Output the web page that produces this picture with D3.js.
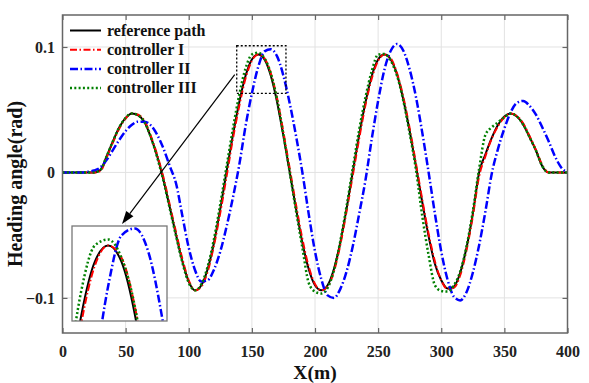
<!DOCTYPE html>
<html>
<head>
<meta charset="utf-8">
<script src="https://cdn.jsdelivr.net/npm/d3@7"></script>
<style>
  body { margin: 0; background: #fff; }
  text { font-family: "Liberation Serif", "Times New Roman", serif; font-weight: bold; }
</style>
</head>
<body>
<div id="chart"></div>
<script>
const width = 589;
const height = 383;

// distance along the path (m)
const distance = [
  0, 5, 10, 15, 20, 25, 30, 35, 40, 45, 50, 55, 60, 65, 70, 75, 80, 85, 90, 95,
  100, 105, 110, 115, 120, 125, 130, 135, 140, 145, 150, 155, 160, 165, 170, 175, 180, 185, 190, 195,
  200, 205, 210, 215, 220, 225, 230, 235, 240, 245, 250, 255, 260, 265, 270, 275, 280, 285, 290, 295,
  300, 305, 310, 315, 320, 325, 330, 335, 340, 345, 350, 355, 360, 365, 370, 375, 380, 385, 390, 395,
  400
];

// heading angle (rad)
const reference = [
  0, 0, 0, 0, 0, 0, 0.002, 0.013, 0.025, 0.036, 0.0435, 0.047, 0.0455, 0.040, 0.028, 0.013, -0.006, -0.028, -0.050, -0.071,
  -0.087, -0.094, -0.090, -0.077, -0.056, -0.029, 0.001, 0.030, 0.056, 0.077, 0.090, 0.094, 0.090, 0.077, 0.056, 0.029, 0.000, -0.029, -0.056, -0.077,
  -0.090, -0.094, -0.090, -0.077, -0.056, -0.029, 0.001, 0.030, 0.056, 0.077, 0.090, 0.094, 0.090, 0.078, 0.058, 0.033, 0.005, -0.024, -0.051, -0.073,
  -0.086, -0.0925, -0.091, -0.080, -0.060, -0.033, 0.000, 0.0145, 0.0275, 0.038, 0.0445, 0.047, 0.0445, 0.038, 0.028, 0.0175, 0.005, 0, 0, 0,
  0
];
const controller1 = [
  0, 0, 0, 0, 0, 0, 0.001, 0.012, 0.024, 0.035, 0.043, 0.047, 0.046, 0.041, 0.029, 0.014, -0.004, -0.026, -0.048, -0.069,
  -0.086, -0.094, -0.091, -0.079, -0.058, -0.032, -0.003, 0.027, 0.053, 0.075, 0.089, 0.094, 0.091, 0.079, 0.059, 0.032, 0.003, -0.026, -0.053, -0.075,
  -0.089, -0.094, -0.091, -0.079, -0.058, -0.031, -0.002, 0.027, 0.054, 0.075, 0.089, 0.094, 0.091, 0.079, 0.060, 0.035, 0.007, -0.022, -0.049, -0.071,
  -0.086, -0.093, -0.092, -0.082, -0.062, -0.035, -0.003, 0.013, 0.027, 0.037, 0.044, 0.047, 0.045, 0.039, 0.029, 0.018, 0.006, 0, 0, 0,
  0
];
const controller2 = [
  0, 0, 0, 0, 0.0005, 0.0015, 0.004, 0.010, 0.018, 0.026, 0.033, 0.038, 0.0405, 0.0405, 0.0375, 0.030, 0.019, 0.005, -0.009, -0.035,
  -0.060, -0.078, -0.087, -0.086, -0.0775, -0.063, -0.043, -0.020, 0.006, 0.037, 0.063, 0.084, 0.0965, 0.0982, 0.0925, 0.077, 0.055, 0.029, 0.000, -0.033,
  -0.063, -0.085, -0.098, -0.100, -0.093, -0.079, -0.0585, -0.033, -0.006, 0.027, 0.057, 0.082, 0.097, 0.1024, 0.097, 0.082, 0.060, 0.0315, 0.000, -0.033,
  -0.063, -0.0855, -0.099, -0.102, -0.0955, -0.080, -0.058, -0.031, -0.001, 0.019, 0.035, 0.048, 0.0555, 0.057, 0.053, 0.046, 0.036, 0.025, 0.013, 0.004,
  0
];
const controller3 = [
  0, 0, 0, 0, 0, 0, 0.002, 0.013, 0.025, 0.036, 0.0435, 0.047, 0.0455, 0.040, 0.028, 0.012, -0.007, -0.029, -0.051, -0.072,
  -0.088, -0.094, -0.089, -0.075, -0.053, -0.025, 0.005, 0.035, 0.062, 0.083, 0.094, 0.0955, 0.091, 0.079, 0.058, 0.030, 0.000, -0.031, -0.060, -0.088,
  -0.095, -0.0965, -0.092, -0.078, -0.055, -0.027, 0.004, 0.034, 0.060, 0.081, 0.094, 0.0945, 0.089, 0.077, 0.057, 0.031, 0.002, -0.035, -0.066, -0.090,
  -0.0945, -0.095, -0.090, -0.079, -0.059, -0.031, 0.003, 0.030, 0.036, 0.040, 0.044, 0.047, 0.0445, 0.038, 0.028, 0.0175, 0.005, 0, 0, 0,
  0
];

const seriesNames = ["reference path", "controller I", "controller II", "controller III"];
const xTicks = [0, 50, 100, 150, 200, 250, 300, 350, 400];
const yTicks = [-0.1, 0, 0.1];

const styles = [
  { color: "#000000", width: 2, dash: null },
  { color: "#ff0000", width: 2, dash: "7,2.5,1.5,2.5" },
  { color: "#0000ff", width: 2.5, dash: "8,2.5,1.5,2.5" },
  { color: "#008000", width: 2.5, dash: "2,2.3" }
];

const series = [reference, controller1, controller2, controller3].map((vals, i) => ({
  name: seriesNames[i],
  style: styles[i],
  points: distance.map((d, j) => [d, vals[j]])
}));

const margin = { left: 62.5, right: 589 - 567.5, top: 15, bottom: 383 - 333 };
const x = d3.scaleLinear().domain([0, 400]).range([margin.left, width - margin.right]);
const y = d3.scaleLinear().domain([-0.128, 0.1255]).range([height - margin.bottom, margin.top]);

const svg = d3.select("#chart")
  .append("svg")
  .attr("width", width)
  .attr("height", height)
  .attr("viewBox", [0, 0, width, height]);

svg.append("defs").append("clipPath")
    .attr("id", "plot-clip")
  .append("rect")
    .attr("x", margin.left)
    .attr("y", margin.top)
    .attr("width", x.range()[1] - margin.left)
    .attr("height", y.range()[0] - margin.top);

// grid
const grid = svg.append("g").attr("stroke", "#e2e2e2").attr("stroke-width", 1);
grid.selectAll(".gx")
  .data(xTicks.slice(1, -1))
  .join("line")
    .attr("x1", d => x(d)).attr("x2", d => x(d))
    .attr("y1", y.range()[1]).attr("y2", y.range()[0]);
grid.selectAll(".gy")
  .data(yTicks)
  .join("line")
    .attr("x1", x.range()[0]).attr("x2", x.range()[1])
    .attr("y1", d => y(d)).attr("y2", d => y(d));

// axes
const axisColor = "#666";
function styleAxis(g) {
  g.select(".domain").remove();
  g.selectAll(".tick line").attr("stroke", axisColor).attr("stroke-width", 1.2);
  g.selectAll(".tick text")
    .attr("fill", "#222")
    .style("font-size", "16px")
    .style("font-family", '"Liberation Serif", "Times New Roman", serif')
    .style("font-weight", "bold");
}

svg.append("g")
  .attr("transform", `translate(0,${y.range()[0]})`)
  .call(d3.axisBottom(x).tickValues(xTicks).tickSize(-5).tickPadding(12.5).tickFormat(d3.format("d")))
  .call(styleAxis);
svg.append("g")
  .attr("transform", `translate(0,${y.range()[1]})`)
  .call(d3.axisTop(x).tickValues(xTicks).tickSize(-5).tickFormat(""))
  .call(styleAxis);
svg.append("g")
  .attr("transform", `translate(${x.range()[0]},0)`)
  .call(d3.axisLeft(y).tickValues(yTicks).tickSize(-5).tickPadding(7.5).tickFormat(d => d === 0 ? "0" : d3.format(".1f")(d)))
  .call(styleAxis);
svg.append("g")
  .attr("transform", `translate(${x.range()[1]},0)`)
  .call(d3.axisRight(y).tickValues(yTicks).tickSize(-5).tickFormat(""))
  .call(styleAxis);

// curves
const line = d3.line()
  .x(d => x(d[0]))
  .y(d => y(d[1]))
  .curve(d3.curveMonotoneX);

svg.append("g")
    .attr("clip-path", "url(#plot-clip)")
  .selectAll("path")
  .data(series)
  .join("path")
    .attr("fill", "none")
    .attr("stroke", d => d.style.color)
    .attr("stroke-width", d => d.style.width)
    .attr("stroke-dasharray", d => d.style.dash)
    .attr("d", d => line(d.points));

// frame
svg.append("rect")
  .attr("x", x.range()[0])
  .attr("y", y.range()[1])
  .attr("width", x.range()[1] - x.range()[0])
  .attr("height", y.range()[0] - y.range()[1])
  .attr("fill", "none")
  .attr("stroke", axisColor)
  .attr("stroke-width", 1.5);

// zoom window on the second peak
const zoomX = [138, 177];
const zoomY = [0.063, 0.101];
svg.append("rect")
  .attr("x", x(zoomX[0]))
  .attr("y", y(zoomY[1]))
  .attr("width", x(zoomX[1]) - x(zoomX[0]))
  .attr("height", y(zoomY[0]) - y(zoomY[1]))
  .attr("fill", "none")
  .attr("stroke", "#000")
  .attr("stroke-width", 1.3)
  .attr("stroke-dasharray", "2,2");

// inset
const inset = { x: 72, y: 226, w: 95, h: 95 };
const ix = d3.scaleLinear().domain([141.5, 177]).range([inset.x, inset.x + inset.w]);
const iy = d3.scaleLinear().domain([0.0755, 0.0988]).range([inset.y + inset.h, inset.y]);

svg.select("defs").append("clipPath")
    .attr("id", "inset-clip")
  .append("rect")
    .attr("x", inset.x)
    .attr("y", inset.y)
    .attr("width", inset.w)
    .attr("height", inset.h);

svg.append("rect")
  .attr("x", inset.x)
  .attr("y", inset.y)
  .attr("width", inset.w)
  .attr("height", inset.h)
  .attr("fill", "#fff");

const insetLine = d3.line()
  .x(d => ix(d[0]))
  .y(d => iy(d[1]))
  .curve(d3.curveMonotoneX);

svg.append("g")
    .attr("clip-path", "url(#inset-clip)")
  .selectAll("path")
  .data(series)
  .join("path")
    .attr("fill", "none")
    .attr("stroke", d => d.style.color)
    .attr("stroke-width", d => d.style.width)
    .attr("stroke-dasharray", d => d.style.dash)
    .attr("d", d => insetLine(d.points));

svg.append("rect")
  .attr("x", inset.x)
  .attr("y", inset.y)
  .attr("width", inset.w)
  .attr("height", inset.h)
  .attr("fill", "none")
  .attr("stroke", "#777")
  .attr("stroke-width", 1.3);

// arrow from the zoom window to the inset
const a0 = [x(zoomX[0]) - 2, y(0.078)];
const a1 = [122, inset.y - 2];
const ang = Math.atan2(a1[1] - a0[1], a1[0] - a0[0]);
const headLen = 13, headW = 4.5;
const base = [a1[0] - headLen * Math.cos(ang), a1[1] - headLen * Math.sin(ang)];
svg.append("line")
  .attr("x1", a0[0]).attr("y1", a0[1])
  .attr("x2", base[0]).attr("y2", base[1])
  .attr("stroke", "#000")
  .attr("stroke-width", 1.2);
svg.append("path")
  .attr("fill", "#000")
  .attr("d", d3.line()([
    a1,
    [base[0] + headW * Math.sin(ang), base[1] - headW * Math.cos(ang)],
    [base[0] - headW * Math.sin(ang), base[1] + headW * Math.cos(ang)]
  ]) + "Z");

// legend
const legend = svg.append("g");
const rows = legend.selectAll("g")
  .data(series)
  .join("g")
    .attr("transform", (d, i) => `translate(70,${30.5 + i * 19.2})`);
rows.append("line")
  .attr("x1", 0).attr("x2", 31)
  .attr("stroke", d => d.style.color)
  .attr("stroke-width", d => d.style.width)
  .attr("stroke-dasharray", d => d.style.dash);
rows.append("text")
  .attr("x", 37)
  .attr("dy", "0.33em")
  .attr("font-size", 16)
  .attr("fill", "#111")
  .text(d => d.name);

// axis titles
svg.append("text")
  .attr("x", (x.range()[0] + x.range()[1]) / 2)
  .attr("y", 378.5)
  .attr("text-anchor", "middle")
  .attr("font-size", 19.5)
  .attr("fill", "#111")
  .text("X(m)");
svg.append("text")
  .attr("transform", "translate(22,184) rotate(-90)")
  .attr("text-anchor", "middle")
  .attr("font-size", 20)
  .attr("fill", "#111")
  .text("Heading angle(rad)");
</script>
</body>
</html>
